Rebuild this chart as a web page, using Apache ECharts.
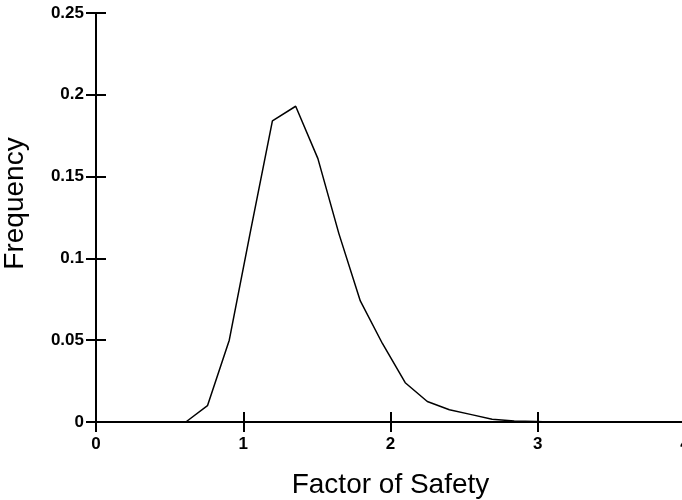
<!DOCTYPE html>
<html>
<head>
<meta charset="utf-8">
<script src="https://cdn.jsdelivr.net/npm/echarts@6/dist/echarts.min.js"></script>
<style>html,body{margin:0;padding:0;background:#fff;}#c{width:682px;height:500px;}</style>
</head>
<body>
<div id="c"></div>
<script>
var factorOfSafety = [0.61, 0.757, 0.905, 1.05, 1.198, 1.356, 1.507, 1.65, 1.795, 1.945, 2.1, 2.25, 2.4, 2.55, 2.69, 2.84, 2.99, 3.08];
var frequency = [0, 0.01, 0.05, 0.117, 0.184, 0.193, 0.161, 0.115, 0.074, 0.048, 0.024, 0.0125, 0.0075, 0.0045, 0.0017, 0.0006, 0.0003, 0];
var xTicks = [0, 1, 2, 3, 4];
var yTicks = [0, 0.05, 0.1, 0.15, 0.2, 0.25];

var points = factorOfSafety.map(function (x, i) { return [x, frequency[i]]; });
var font = "'Liberation Sans', Arial, sans-serif";
var lineStyle = { color: '#000', width: 2 };

var chart = echarts.init(document.getElementById('c'), null, { renderer: 'canvas' });
chart.setOption({
  animation: false,
  backgroundColor: '#fff',
  grid: { left: 96, top: 13, bottom: 78, right: -3, containLabel: false, outerBoundsMode: 'none' },
  xAxis: [{
    type: 'value', position: 'bottom', min: xTicks[0], max: xTicks[xTicks.length - 1], interval: 1,
    name: 'Factor of Safety', nameLocation: 'middle', nameGap: 49,
    nameTextStyle: { fontFamily: font, fontSize: 28, color: '#000' },
    axisLine: { lineStyle: lineStyle },
    axisTick: { inside: true, length: 10, lineStyle: lineStyle },
    axisLabel: { fontFamily: font, fontWeight: 'bold', fontSize: 17, color: '#000', margin: 14,
      formatter: function (v) { return String(v); } },
    splitLine: { show: false }
  }, {
    type: 'value', position: 'top', min: xTicks[0], max: xTicks[xTicks.length - 1], interval: 1,
    axisLine: { lineStyle: { color: '#000', width: 1.5 } },
    axisTick: { inside: true, length: 10, lineStyle: lineStyle },
    axisLabel: { show: false },
    splitLine: { show: false }
  }],
  yAxis: [{
    type: 'value', position: 'left', min: yTicks[0], max: yTicks[yTicks.length - 1], interval: 0.05,
    name: 'Frequency', nameLocation: 'middle', nameGap: 67, nameRotate: 90,
    nameTextStyle: { fontFamily: font, fontSize: 28, color: '#000', padding: [0, 0, 0, 28] },
    axisLine: { lineStyle: lineStyle },
    axisTick: { inside: true, length: 10, lineStyle: lineStyle },
    axisLabel: { fontFamily: font, fontWeight: 'bold', fontSize: 17, color: '#000', margin: 12,
      formatter: function (v) { return String(Math.round(v * 100) / 100); } },
    splitLine: { show: false }
  }, {
    type: 'value', position: 'right', min: yTicks[0], max: yTicks[yTicks.length - 1], interval: 0.05,
    axisLine: { lineStyle: lineStyle },
    axisTick: { inside: true, length: 10, lineStyle: lineStyle },
    axisLabel: { show: false },
    splitLine: { show: false }
  }],
  series: [{
    type: 'line',
    data: points,
    showSymbol: false,
    symbol: 'none',
    lineStyle: { color: '#000', width: 1.5 },
    itemStyle: { color: '#000' },
    clip: true
  }]
});
</script>
</body>
</html>
